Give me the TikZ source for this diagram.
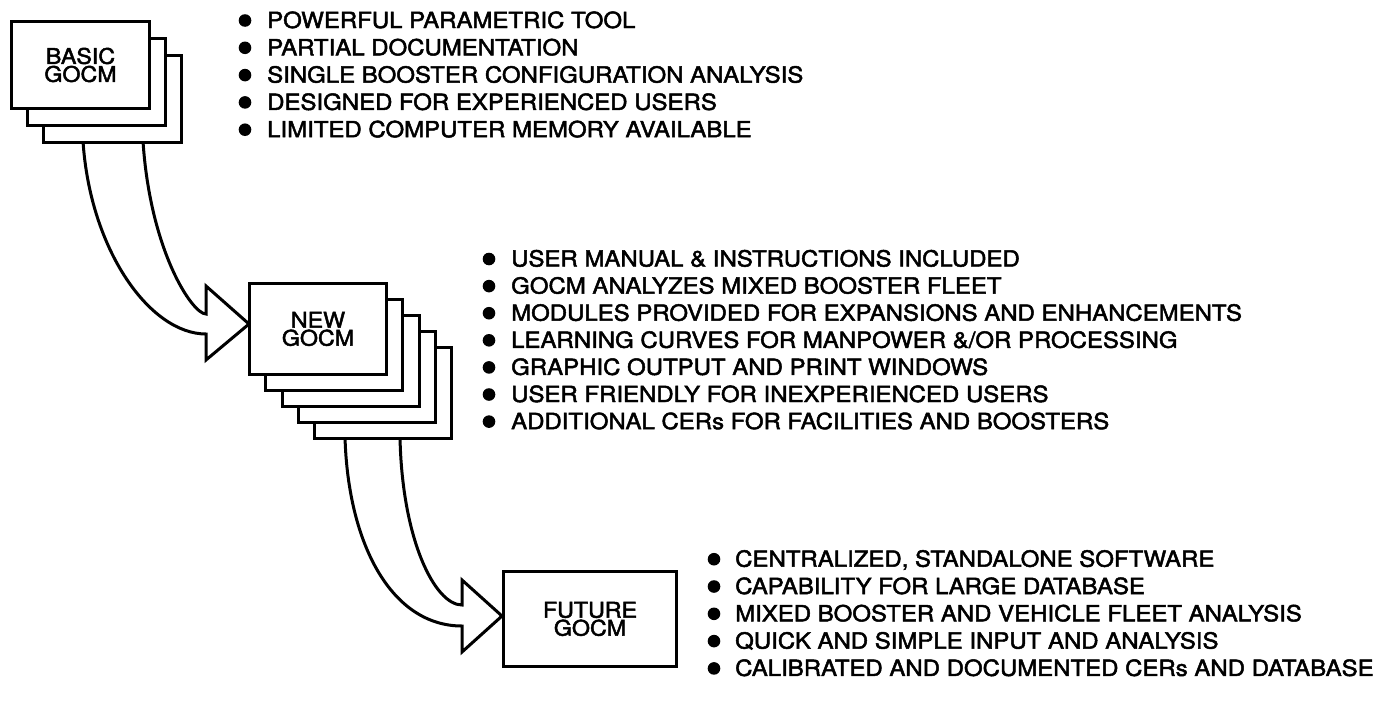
\documentclass[tikz,border=0pt]{standalone}
\usepackage{fontspec}
\setmainfont{TeX Gyre Heros}[FakeStretch=1.08, FakeBold=2.2]
\usetikzlibrary{calc}
\newcommand{\listfont}{\fontsize{22.2}{27}\selectfont}
\newcommand{\cardfont}{\fontsize{21.5}{18}\selectfont}
\begin{document}
\begin{tikzpicture}[x=1pt,y=-1pt,
  card/.style={draw, line width=3pt, fill=white, anchor=north west,
    inner sep=0pt, font=\cardfont, align=center},
  blockarrow/.style={draw, line width=3pt, fill=white, line join=miter},
  item/.style={anchor=base west, inner sep=0pt, font=\listfont},
  dot/.style={fill=black}]
\useasboundingbox (0,0) rectangle (1376,704);

% ---- curved block arrow: BASIC -> NEW
\coordinate (a1o) at (83,141);
\coordinate (a1i) at (143,141);
\coordinate (a1tip) at (249,324);
\draw[blockarrow] (a1o) .. controls (90,250) and (150,334) .. ($(a1tip)+(-43,10)$)
  -- ($(a1tip)+(-43,36)$) -- (a1tip) -- ($(a1tip)+(-43,-38)$) -- ($(a1tip)+(-43,-10)$)
  .. controls (192,314) and (150,250) .. (a1i) -- cycle;

% ---- curved block arrow: NEW -> FUTURE
\coordinate (a2o) at (345,437);
\coordinate (a2i) at (400,437);
\coordinate (a2tip) at (502,616);
\draw[blockarrow] (a2o) .. controls (348,545) and (392,626) .. ($(a2tip)+(-40,10)$)
  -- ($(a2tip)+(-40,36)$) -- (a2tip) -- ($(a2tip)+(-40,-36)$) -- ($(a2tip)+(-40,-11)$)
  .. controls (435,605) and (402,540) .. (a2i) -- cycle;

% ---- BASIC GOCM stack
\node[card, minimum width=138pt, minimum height=87pt] (basic2) at (42,54) {};
\node[card, minimum width=138pt, minimum height=87pt] (basic1) at (26,37) {};
\node[card, minimum width=138pt, minimum height=87pt] (basic0) at (10,20) {BASIC\\GOCM};

% ---- NEW GOCM stack
\foreach \k in {4,3,2,1} {
  \node[card, minimum width=137pt, minimum height=91pt] (new\k)
    at ({248+16.25*\k},{282+16.1*\k}) {};
}
\node[card, minimum width=137pt, minimum height=91pt] (new0) at (248,282) {NEW\\GOCM};

% ---- FUTURE GOCM
\node[card, minimum width=173pt, minimum height=95pt] (future) at (502,570) {FUTURE\\GOCM};

% ---- bullet lists
\foreach \t [count=\k] in {POWERFUL PARAMETRIC TOOL, PARTIAL DOCUMENTATION,
    SINGLE BOOSTER CONFIGURATION ANALYSIS, DESIGNED FOR EXPERIENCED USERS,
    LIMITED COMPUTER MEMORY AVAILABLE} {
  \node[item] (ba\k) at (267,{28+27.3*(\k-1)}) {\t};
  \fill[dot] ($(ba\k.base west)+(-22,-7.5)$) circle (6.3pt);
}
\foreach \t [count=\k] in {USER MANUAL \& INSTRUCTIONS INCLUDED,
    GOCM ANALYZES MIXED BOOSTER FLEET,
    MODULES PROVIDED FOR EXPANSIONS AND ENHANCEMENTS,
    LEARNING CURVES FOR MANPOWER \&/OR PROCESSING,
    GRAPHIC OUTPUT AND PRINT WINDOWS,
    USER FRIENDLY FOR INEXPERIENCED USERS,
    ADDITIONAL CERs FOR FACILITIES AND BOOSTERS} {
  \node[item] (ne\k) at (511,{266.5+27.1*(\k-1)}) {\t};
  \fill[dot] ($(ne\k.base west)+(-22,-7.5)$) circle (6.3pt);
}
\foreach \t [count=\k] in {{CENTRALIZED, STANDALONE SOFTWARE},
    CAPABILITY FOR LARGE DATABASE,
    MIXED BOOSTER AND VEHICLE FLEET ANALYSIS,
    QUICK AND SIMPLE INPUT AND ANALYSIS,
    CALIBRATED AND DOCUMENTED CERs AND DATABASE} {
  \node[item] (fu\k) at (735,{566.7+27.3*(\k-1)}) {\t};
  \fill[dot] ($(fu\k.base west)+(-21,-7.5)$) circle (6.3pt);
}
\end{tikzpicture}
\end{document}
